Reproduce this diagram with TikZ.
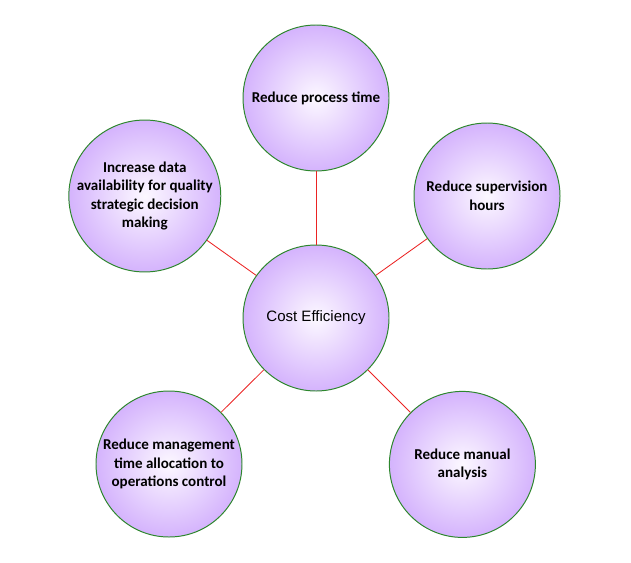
\documentclass[tikz,border=0pt]{standalone}
\usepackage{fontspec}
\setmainfont{Carlito}
\newfontfamily\arialfont{Liberation Sans}
\usepackage{tikz}
\usetikzlibrary{positioning}

\definecolor{lilacin}{RGB}{252,248,255}
\definecolor{lilacmid}{RGB}{214,182,253}
\definecolor{lilacout}{RGB}{180,124,248}
\definecolor{rimgreen}{RGB}{45,135,45}
\definecolor{linkred}{RGB}{235,35,35}
\pgfdeclareradialshading{lilacglow}{\pgfpointorigin}{color(0bp)=(lilacin); color(24bp)=(lilacmid); color(50bp)=(lilacout)}

\begin{document}
\begin{tikzpicture}[
    bubble/.style={circle,draw=rimgreen,line width=0.7pt,shading=lilacglow,minimum size=3.65cm,inner sep=0pt,align=center,font=\fontsize{10.7}{13.2}\selectfont\bfseries},
    link/.style={draw=linkred,line width=0.6pt}]
  \useasboundingbox (-7.9,-6.1) rectangle (7.875,7.95);
  \node[bubble,font=\arialfont\fontsize{10.7}{12.8}\selectfont] (hub) at (0,0) {Cost Efficiency};
  \node[bubble] (proc) at (0,5.5) {Reduce process time};
  \node[bubble] (data) at (-4.28,3.05) {Increase data\\availability for quality\\strategic decision\\making};
  \node[bubble] (super) at (4.275,3.05) {Reduce supervision\\hours};
  \node[bubble] (mgmt) at (-3.675,-3.65) {Reduce management\\time allocation to\\operations control};
  \node[bubble] (manual) at (3.66,-3.66) {Reduce manual\\analysis};
  \draw[link] (hub) -- (proc);
  \draw[link] (hub) -- (data);
  \draw[link] (hub) -- (super);
  \draw[link] (hub) -- (mgmt);
  \draw[link] (hub) -- (manual);
\end{tikzpicture}
\end{document}
